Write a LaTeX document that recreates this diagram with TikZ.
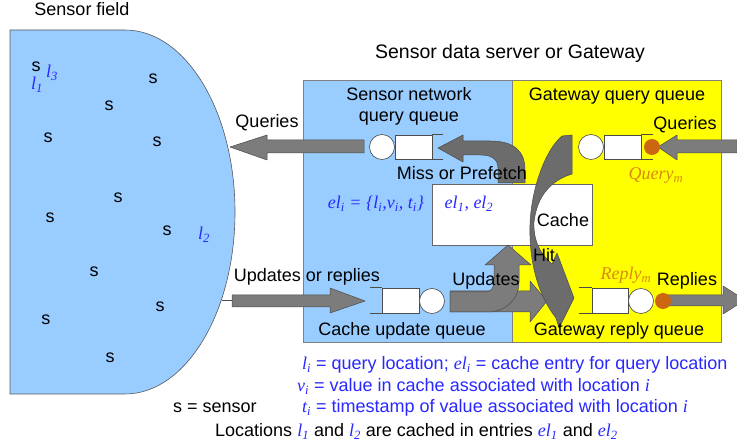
\documentclass[tikz,border=0pt]{standalone}
\usepackage{fontspec}
\setmainfont{Liberation Sans}
\newfontfamily\tms{Liberation Serif}
\definecolor{fieldblue}{HTML}{99CCFF}
\definecolor{gwyellow}{HTML}{FFFF00}
\definecolor{arrowgray}{HTML}{7C7C7C}
\definecolor{arrowdark}{HTML}{6C6C6C}
\definecolor{arrowedge}{HTML}{4A4A4A}
\definecolor{txtblue}{HTML}{2828FF}
\definecolor{qorange}{HTML}{D98A10}
\definecolor{dotorange}{HTML}{CC6611}
\newcommand{\mv}[2]{{\tms\itshape #1\textsubscript{#2}}}
\begin{document}
\begin{tikzpicture}[x=1pt,y=-1pt,
  lbl/.style={font=\fontsize{18}{20}\selectfont, inner sep=0pt},
  bl/.style={lbl, text=txtblue},
  blockarrow/.style={fill=arrowgray, draw=arrowedge, line width=0.5pt, line join=round},
  darkarrow/.style={blockarrow, fill=arrowdark},
  qitem/.style={draw=black!70, fill=white, line width=0.6pt, minimum width=37pt, minimum height=24pt, inner sep=0pt},
  qline/.style={draw=black!70, line width=0.6pt},
  server/.style={circle, draw=black!70, fill=white, line width=0.6pt, minimum size=25pt, inner sep=0pt},
  odot/.style={circle, fill=dotorange, minimum size=16pt, inner sep=0pt},
  panel/.style={draw=black!50, line width=0.6pt}]
\clip (0,0) rectangle (737,446);
\fill[white] (0,0) rectangle (737,446);

% sensor field
\draw[fill=fieldblue, draw=black!65, line width=0.6pt] (10,30) -- (125,30)
  .. controls (185.75,30) and (235,111.5) .. (235,212)
  .. controls (235,312.5) and (185.75,394) .. (125,394) -- (10,394) -- cycle;

% server panels
\draw[panel, fill=fieldblue] (303,80) rectangle (512,342);
\draw[panel, fill=gwyellow] (512,80) rectangle (721,342);
\node[draw=black!60, fill=white, line width=0.6pt, minimum width=160pt, minimum height=61pt, inner sep=0pt, anchor=north west] (cache) at (432,184) {};

% block arrows
\draw[blockarrow] (364,140) -- (267,140) -- (267,135) -- (230,147) -- (267,160) -- (267,153) -- (364,153) -- cycle;
\draw[blockarrow] (737,140) -- (677,140) -- (677,135) -- (658,147) -- (677,160) -- (677,153) -- (737,153) -- cycle;
\draw[arrowedge, line width=0.6pt] (222,300) -- (232,300);
\draw[blockarrow] (232,295) -- (330,295) -- (330,288) -- (365,301) -- (330,313) -- (330,307) -- (232,307) -- cycle;
\draw[blockarrow] (450,291) -- (530,291) -- (530,281) -- (547,301) -- (530,322) -- (530,312) -- (450,312) -- cycle;
\draw[blockarrow] (450,292) -- (485,292) .. controls (491,292) and (494,288) .. (494,281) -- (494,265) -- (485,265) -- (508,245) -- (531,265) -- (519,265) -- (519,282) .. controls (519,300) and (505,312) .. (488,312) -- (450,312) -- cycle;
\draw[darkarrow] (498,183) -- (498,168) .. controls (498,159) and (491,155) .. (481,155) -- (463,155) -- (463,162) -- (438,148) -- (463,135) -- (463,141) -- (490,141) .. controls (514,141) and (525,151) .. (525,170) -- (525,183) -- cycle;
\draw[darkarrow] (572,135) -- (572,174) .. controls (552,180) and (537,195) .. (534,222) .. controls (533,242) and (542,256) .. (552,264) -- (557,253) -- (574,298) -- (559,328) -- (556,318) .. controls (538,295) and (529,262) .. (530,225) .. controls (531,190) and (545,150) .. (562,136) -- cycle;
\draw[blockarrow] (663,295) -- (723,295) -- (723,286) -- (745,300) -- (723,314) -- (723,306) -- (663,306) -- cycle;

% queues
\node[server] (snq) at (382,147) {};
\node[qitem] (snqi) at (413.5,147) {};
\draw[qline] (snqi.north east) -- ++(11,0) (snqi.south east) -- ++(11,0);

\node[server] (gqq) at (591,147) {};
\node[qitem] (gqqi) at (622.5,147) {};
\draw[qline] (gqqi.north east) -- ++(12,0) (gqqi.south east) -- ++(12,0);
\node[odot] (qdot) at (652,147) {};

\node[qitem, minimum height=25pt] (cuqi) at (400.5,300.5) {};
\draw[qline] (cuqi.north west) -- ++(-12,0) (cuqi.south west) -- ++(-12,0);
\node[server] (cuq) at (432,301) {};

\node[qitem, minimum width=36pt, minimum height=25pt] (grqi) at (610,300.5) {};
\draw[qline] (grqi.north west) -- ++(-13,0) (grqi.south west) -- ++(-13,0);
\node[server] (grq) at (641,301) {};
\node[odot] (rdot) at (663,301) {};

% sensors
\foreach \n/\px/\py in {1/36/67, 2/153/79, 3/109/106, 4/48/138, 5/157/142, 6/118/198, 7/50/218, 8/167/231, 9/94/272, 10/160/307, 11/46/320, 12/110/358}
  \node[lbl] (s\n) at (\px,\py) {s};
\node[bl] (l3) at (52,73) {\mv{l}{3}};
\node[bl] (l1) at (37,85) {\mv{l}{1}};
\node[bl] (l2) at (204,235) {\mv{l}{2}};

% labels
\node[lbl, anchor=base] (tfield) at (82,16) {Sensor field};
\node[lbl, anchor=base, font=\fontsize{19.5}{22}\selectfont] (tserver) at (510,59) {Sensor data server or Gateway};
\node[lbl, anchor=base] (tsnq1) at (409,101) {Sensor network};
\node[lbl, anchor=base] (tsnq2) at (409,122) {query queue};
\node[lbl, anchor=base] (tgqq) at (617,101) {Gateway query queue};
\node[lbl, anchor=base] (tqr) at (685,130) {Queries};
\node[lbl, anchor=base] (tql) at (267,128) {Queries};
\node[lbl, anchor=base] (tmiss) at (462,180) {Miss or Prefetch};
\node[lbl, anchor=base, text=qorange] (tquery) at (656,180) {{\tms\itshape Query\textsubscript{m}}};
\node[bl, anchor=base] (tel) at (376,209) {{\tms\itshape el\textsubscript{i} = \{l\textsubscript{i},v\textsubscript{i}, t\textsubscript{i}\}}};
\node[bl, anchor=base] (tel12) at (469,209) {{\tms\itshape el\textsubscript{1}, el\textsubscript{2}}};
\node[lbl, anchor=base] (tcache) at (563,227) {Cache};
\node[lbl, anchor=base] (thit) at (544,262) {Hit};
\node[lbl, anchor=base] (tupr) at (307,282) {Updates or replies};
\node[lbl, anchor=base] (tupd) at (486,286) {Updates};
\node[lbl, anchor=base, text=qorange] (treply) at (626,280) {{\tms\itshape Reply\textsubscript{m}}};
\node[lbl, anchor=base] (treplies) at (687,286) {Replies};
\node[lbl, anchor=base] (tcuq) at (402,336) {Cache update queue};
\node[lbl, anchor=base] (tgrq) at (619,336) {Gateway reply queue};

% legend
\node[bl, anchor=base west] (leg1) at (302,370) {\mv{l}{i} = query location; \mv{el}{i} = cache entry for query location};
\node[bl, anchor=base west] (leg2) at (297,392) {\mv{v}{i} = value in cache associated with location {\tms\itshape i}};
\node[bl, anchor=base west] (leg3) at (302,413) {\mv{t}{i} = timestamp of value associated with location {\tms\itshape i}};
\node[lbl, anchor=base west] (leg0) at (173,413) {s = sensor};
\node[lbl, anchor=base west] (leg4) at (215,437) {Locations {\color{txtblue}\mv{l}{1}} and {\color{txtblue}\mv{l}{2}} are cached in entries {\color{txtblue}\mv{el}{1}} and {\color{txtblue}\mv{el}{2}}};
\end{tikzpicture}
\end{document}
